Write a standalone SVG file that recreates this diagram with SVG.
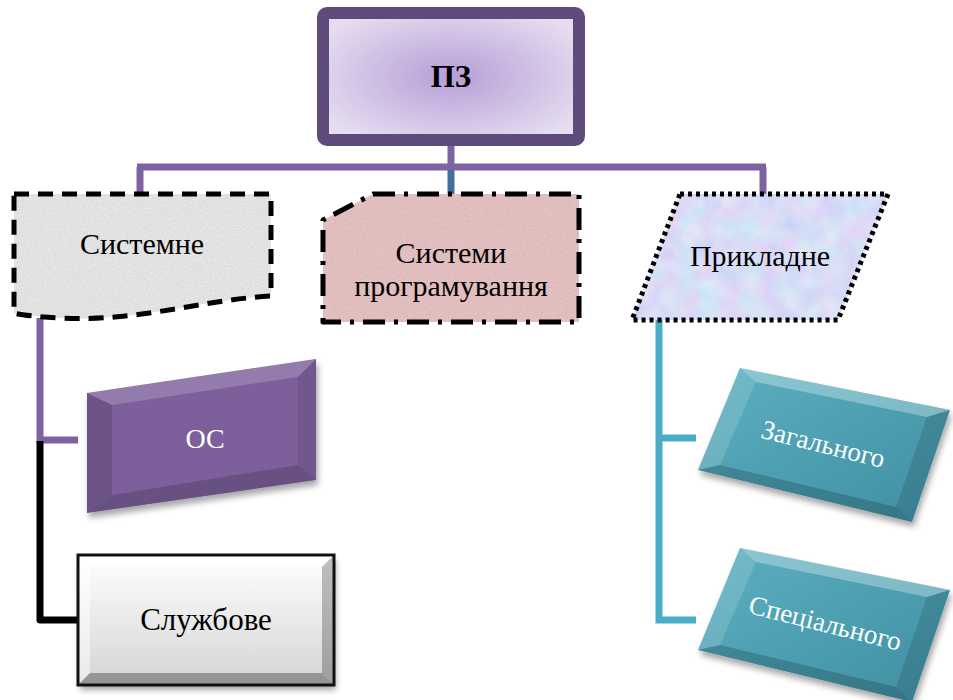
<svg xmlns="http://www.w3.org/2000/svg" width="953" height="700" viewBox="0 0 953 700">
  <defs>
    <radialGradient id="gTop" cx="0.5" cy="0.5" r="0.6">
      <stop offset="0" stop-color="#b79ed7"/>
      <stop offset="1" stop-color="#e6def0"/>
    </radialGradient>
    <linearGradient id="gGray" x1="0" y1="0" x2="0" y2="1">
      <stop offset="0" stop-color="#ffffff"/>
      <stop offset="1" stop-color="#d4d4d4"/>
    </linearGradient>
    <linearGradient id="gTeal" x1="0" y1="0" x2="1" y2="1">
      <stop offset="0" stop-color="#5cb0c1"/>
      <stop offset="1" stop-color="#3f8ea2"/>
    </linearGradient>
    <!-- speckled paper texture -->
    <filter id="grain" x="0" y="0" width="1" height="1">
      <feTurbulence type="fractalNoise" baseFrequency="0.7" numOctaves="2" seed="3" result="n"/>
      <feColorMatrix in="n" type="matrix" values="0 0 0 0 0.55  0 0 0 0 0.55  0 0 0 0 0.55  0 0 0 0.55 0" result="g"/>
      <feComposite in="g" in2="SourceGraphic" operator="in" result="gm"/>
      <feBlend in="SourceGraphic" in2="gm" mode="multiply"/>
    </filter>
    <!-- mottled pastel texture -->
    <filter id="mottle" x="0" y="0" width="1" height="1">
      <feTurbulence type="fractalNoise" baseFrequency="0.05" numOctaves="3" seed="7" result="n"/>
      <feColorMatrix in="n" type="matrix" values="0.7 0 0 0 0.45  0 0.6 0 0 0.5  0 0 0 0 0.95  0 0 0 0 0.45" result="c"/>
      <feComposite in="c" in2="SourceGraphic" operator="in" result="cm"/>
      <feMerge result="m"><feMergeNode in="SourceGraphic"/><feMergeNode in="cm"/></feMerge>
    </filter>
    <filter id="shadow" x="-10%" y="-10%" width="130%" height="140%">
      <feGaussianBlur in="SourceAlpha" stdDeviation="3"/>
      <feOffset dx="2" dy="5" result="b"/>
      <feComponentTransfer><feFuncA type="linear" slope="0.35"/></feComponentTransfer>
      <feMerge><feMergeNode/><feMergeNode in="SourceGraphic"/></feMerge>
    </filter>
  </defs>
  <style>
    text { font-family: "Liberation Serif", "DejaVu Serif", "Times New Roman", serif; fill: #000; text-anchor: middle; }
    .w { fill: #ffffff; }
    .lnP { stroke: #7f62a1; stroke-width: 7; fill: none; }
    .lnB { stroke: #000; stroke-width: 7; fill: none; stroke-linejoin: round; }
    .lnT { stroke: #4bacc6; stroke-width: 7; fill: none; }
    .lite { fill: #ffffff; }
    .dark { fill: #000000; }
  </style>

  <!-- connectors -->
  <g id="connectors">
    <line class="lnP" x1="451" y1="144" x2="451" y2="167"/>
    <line class="lnP" x1="137" y1="167" x2="766" y2="167"/>
    <line x1="451" y1="170" x2="451" y2="194" stroke="#41709c" stroke-width="7"/>
    <line class="lnP" x1="140" y1="167" x2="140" y2="195"/>
    <line class="lnP" x1="763" y1="167" x2="763" y2="195"/>
    <!-- system software branch -->
    <path class="lnP" d="M40 318 V440 H78"/>
    <path class="lnB" d="M40 441 V620 H78"/>
    <!-- applied software branch -->
    <path class="lnT" d="M659 320 V620 H696"/>
    <line class="lnT" x1="659" y1="438" x2="696" y2="438"/>
  </g>

  <!-- root -->
  <g id="node-pz">
    <rect x="323" y="13" width="256" height="127" rx="4" fill="url(#gTop)" stroke="#5e4b7c" stroke-width="12"/>
    <text x="451" y="87" font-weight="bold" font-size="31">ПЗ</text>
  </g>

  <!-- system software -->
  <g id="node-systemne">
    <path d="M14 194 H271 V296 C200 300 140 322 60 318 C40 317 20 315 14 313 Z" fill="#efefef" filter="url(#grain)"/>
    <path d="M14 194 H271 V296 C200 300 140 322 60 318 C40 317 20 315 14 313 Z" fill="none" stroke="#000" stroke-width="5" stroke-dasharray="15 9" stroke-linejoin="round"/>
    <text x="142" y="254" font-size="30">Системне</text>
  </g>

  <!-- programming systems -->
  <g id="node-prog">
    <path d="M373 194 H579 V322 H323 V220 Z" fill="#efc9ca" filter="url(#grain)"/>
    <path d="M373 194 H579 V322 H323 V220 Z" fill="none" stroke="#000" stroke-width="5" stroke-dasharray="22 9 4 9" stroke-linejoin="round"/>
    <text x="451" y="263" font-size="30">Системи</text>
    <text x="451" y="296" font-size="30">програмування</text>
  </g>

  <!-- applied software -->
  <g id="node-prykladne">
    <path d="M680 194 H888 L838 320 H632 Z" fill="#ccd5f3" filter="url(#mottle)"/>
    <path d="M680 194 H888 L838 320 H632 Z" fill="none" stroke="#000" stroke-width="5" stroke-dasharray="4 4"/>
    <text x="760" y="266" font-size="30">Прикладне</text>
  </g>

  <!-- OS -->
  <g id="node-os">
    <path d="M87 393 L316 359 V480 L87 513 Z" fill="#7b5e9b" filter="url(#shadow)"/>
    <path d="M87 393 L316 359 L298 377 L112 405 Z" class="lite" opacity="0.18"/>
    <path d="M87 393 L112 405 V495 L87 513 Z" class="dark" opacity="0.12"/>
    <path d="M316 359 V480 L298 465 V377 Z" class="dark" opacity="0.08"/>
    <path d="M87 513 L316 480 L298 465 L112 495 Z" class="dark" opacity="0.15"/>
    <text class="w" x="205" y="448" font-size="28">ОС</text>
  </g>

  <!-- utility software -->
  <g id="node-sluzhbove">
    <rect x="78" y="555" width="256" height="130" fill="url(#gGray)" filter="url(#shadow)"/>
    <path d="M78 555 H334 L322 567 H90 Z" class="lite" opacity="0.8"/>
    <path d="M78 555 L90 567 V673 L78 685 Z" class="lite" opacity="0.5"/>
    <path d="M334 555 V685 L322 673 V567 Z" class="dark" opacity="0.25"/>
    <path d="M78 685 H334 L322 673 H90 Z" class="dark" opacity="0.3"/>
    <rect x="78" y="555" width="256" height="130" fill="none" stroke="#111" stroke-width="3"/>
    <text x="206" y="630" font-size="31">Службове</text>
  </g>

  <!-- general purpose -->
  <g id="node-zagalnoho">
    <path d="M740 368 L950 410 L912 522 L698 470 Z" fill="url(#gTeal)" filter="url(#shadow)"/>
    <path d="M740 368 L950 410 L927 417 L756 382 Z" class="lite" opacity="0.3"/>
    <path d="M740 368 L756 382 L720 465 L698 470 Z" class="lite" opacity="0.15"/>
    <path d="M950 410 L912 522 L896 507 L927 417 Z" class="dark" opacity="0.12"/>
    <path d="M698 470 L720 465 L896 507 L912 522 Z" class="dark" opacity="0.18"/>
    <text class="w" x="823" y="453" font-size="27" transform="rotate(14 823 445)">Загального</text>
  </g>

  <!-- special purpose -->
  <g id="node-spetsialnoho">
    <path d="M740 548 L950 590 L912 702 L698 650 Z" fill="url(#gTeal)" filter="url(#shadow)"/>
    <path d="M740 548 L950 590 L927 597 L756 562 Z" class="lite" opacity="0.3"/>
    <path d="M740 548 L756 562 L720 645 L698 650 Z" class="lite" opacity="0.15"/>
    <path d="M950 590 L912 702 L896 687 L927 597 Z" class="dark" opacity="0.12"/>
    <path d="M698 650 L720 645 L896 687 L912 702 Z" class="dark" opacity="0.18"/>
    <text class="w" x="825" y="632" font-size="27" transform="rotate(14 825 624)">Спеціального</text>
  </g>
</svg>
